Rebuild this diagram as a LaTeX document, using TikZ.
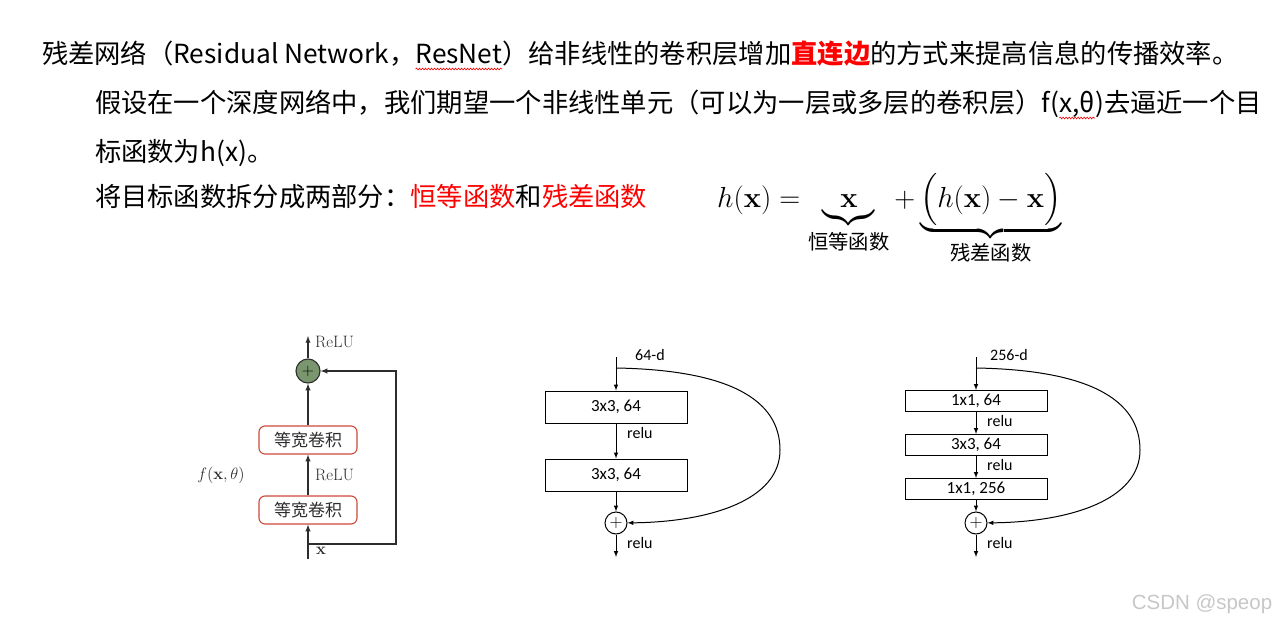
\RequirePackage{fix-cm}
\documentclass[tikz,border=0pt]{standalone}
\usepackage{amsmath,amssymb}
\usepackage[no-math]{fontspec}
\newfontfamily\cjk{Noto Sans CJK SC}
\newfontfamily\calib{Carlito}
\newfontfamily\wmfont{Liberation Sans}
\usepackage{tikz}
\usetikzlibrary{arrows,positioning,calc,decorations.pathmorphing}
\definecolor{resred}{RGB}{255,0,0}
\definecolor{convred}{RGB}{206,72,58}
\definecolor{addgreen}{RGB}{122,150,110}
\definecolor{linegray}{RGB}{45,45,45}

\begin{document}
\begin{tikzpicture}[x=1pt,y=-1pt,
	txt/.style={inner sep=0pt,outer sep=0pt,anchor=base west,font=\cjk\fontsize{26.3}{30}\selectfont},
	squig/.style={resred,line width=0.6pt,decorate,decoration={snake,amplitude=0.9pt,segment length=3pt}},
	conv/.style={draw=convred,line width=1.1pt,rounded corners=6pt,minimum width=98pt,minimum height=28pt,inner sep=0pt,text=linegray,font=\cjk\fontsize{17}{20}\selectfont},
	addnode/.style={circle,draw=linegray,line width=1.1pt,fill=addgreen,minimum size=24pt,inner sep=0pt,font=\fontsize{16}{16}\selectfont},
	arr/.style={linegray,line width=1.3pt,-latex},
	unitlbl/.style={inner sep=0pt,text=linegray,font=\fontsize{16.5}{18}\selectfont},
	blk/.style={draw,line width=1pt,minimum width=142pt,inner sep=0pt,font=\calib\fontsize{17}{20}\selectfont},
	sumnode/.style={circle,draw,line width=1pt,fill=white,minimum size=22pt,inner sep=0pt,font=\fontsize{18}{18}\selectfont},
	arrb/.style={line width=1pt,-latex},
	lbl/.style={inner sep=0pt,font=\calib\fontsize{16}{18}\selectfont}]
	\useasboundingbox (0,0) rectangle (1283,626);
	
	% text
	\node[txt] (l1a) at (42,64) {残差网络（Residual Network，};
	\node[txt] (l1b) at (l1a.base east) {ResNet};
	\node[txt] (l1c) at (l1b.base east) {）给非线性的卷积层增加{\bfseries\color{resred}直连边}的方式来提高信息的传播效率。};
	\node[txt] (l2a) at (95,113) {假设在一个深度网络中，我们期望一个非线性单元（可以为一层或多层的卷积层）f(};
	\node[txt] (l2b) at (l2a.base east) {x,θ};
	\node[txt] (l2c) at (l2b.base east) {)去逼近一个目};
	\node[txt] (l3) at (95,161) {标函数为h(x)。};
	\node[txt] (l4) at (95,206) {将目标函数拆分成两部分：{\color{resred}恒等函数}和{\color{resred}残差函数}};
	\draw[squig] ($(l1b.base west)+(0,5)$) -- ($(l1b.base east)+(0,5)$);
	\draw[squig] ($(l2b.base west)+(0,5)$) -- ($(l2b.base east)+(0,5)$);
	
	\node[anchor=base west,inner sep=0pt] (eq) at (717,207) {\fontsize{29}{34}\selectfont
		$h(\mathbf{x}) = \underbrace{\ \mathbf{x}\rule[-0.22em]{0pt}{0.22em}\ }_{\text{\cjk\rule{0pt}{1.08em}恒等函数}} + \underbrace{\Big(h(\mathbf{x}) - \mathbf{x}\Big)}_{\text{\cjk\rule{0pt}{1em}残差函数}}$};
	
	% residual unit
	\node[addnode] (sum1) at (308,371) {$+$};
	\node[conv] (conv1) at (308,440) {等宽卷积};
	\node[conv] (conv2) at (308,510) {等宽卷积};
	\coordinate (in1) at (308,559);
	\coordinate (split1) at (308,544);
	\coordinate (skip1) at (396,544);
	\coordinate (out1) at (308,336);
	\draw[arr] (in1) -- (conv2);
	\draw[arr] (conv2) -- (conv1);
	\draw[arr] (conv1) -- (sum1);
	\draw[arr] (sum1) -- (out1);
	\draw[arr] (split1) -- (skip1) |- (sum1);
	\node[unitlbl,anchor=west] (relu1) at (315,342) {ReLU};
	\node[unitlbl,anchor=west] (relu2) at (315,475) {ReLU};
	\node[unitlbl] (fx) at (221,475) {$f(\mathbf{x},\theta)$};
	\node[unitlbl,anchor=west] (xin) at (316,551) {$\mathbf{x}$};
	
	% basic block
	\node[blk,minimum height=32pt] (b21) at (616,407) {3x3, 64};
	\node[blk,minimum height=32pt] (b22) at (616,475) {3x3, 64};
	\node[sumnode] (sum2) at (616,523) {$+$};
	\coordinate (in2) at (616,357);
	\coordinate (split2) at (616,368);
	\coordinate (out2) at (616,557);
	\draw[arrb] (in2) -- (b21);
	\draw[arrb] (b21) -- (b22);
	\draw[arrb] (b22) -- (sum2);
	\draw[arrb] (sum2) -- (out2);
	\draw[arrb] (split2) .. controls (730,370) and (780,400) .. (780,450) .. controls (780,500) and (710,522) .. (sum2);
	\node[lbl] (d64) at (650,355) {64-d};
	\node[lbl,anchor=west] (r21) at (627,433) {relu};
	\node[lbl,anchor=west] (r22) at (627,543) {relu};
	
	% bottleneck block
	\node[blk,minimum height=21pt] (b31) at (976,401) {1x1, 64};
	\node[blk,minimum height=21pt] (b32) at (976,445) {3x3, 64};
	\node[blk,minimum height=21pt] (b33) at (976,489) {1x1, 256};
	\node[sumnode] (sum3) at (976,523) {$+$};
	\coordinate (in3) at (976,357);
	\coordinate (split3) at (976,368);
	\coordinate (out3) at (976,557);
	\draw[arrb] (in3) -- (b31);
	\draw[arrb] (b31) -- (b32);
	\draw[arrb] (b32) -- (b33);
	\draw[arrb] (b33) -- (sum3);
	\draw[arrb] (sum3) -- (out3);
	\draw[arrb] (split3) .. controls (1090,370) and (1140,400) .. (1140,450) .. controls (1140,500) and (1070,522) .. (sum3);
	\node[lbl] (d256) at (1009,355) {256-d};
	\node[lbl,anchor=west] (r31) at (987,421) {relu};
	\node[lbl,anchor=west] (r32) at (987,465) {relu};
	\node[lbl,anchor=west] (r33) at (987,543) {relu};
	
	\node[inner sep=0pt,text=black!22,font=\wmfont\fontsize{20.5}{22}\selectfont] (wm) at (1202,604) {CSDN @speop};
\end{tikzpicture}
\end{document}
